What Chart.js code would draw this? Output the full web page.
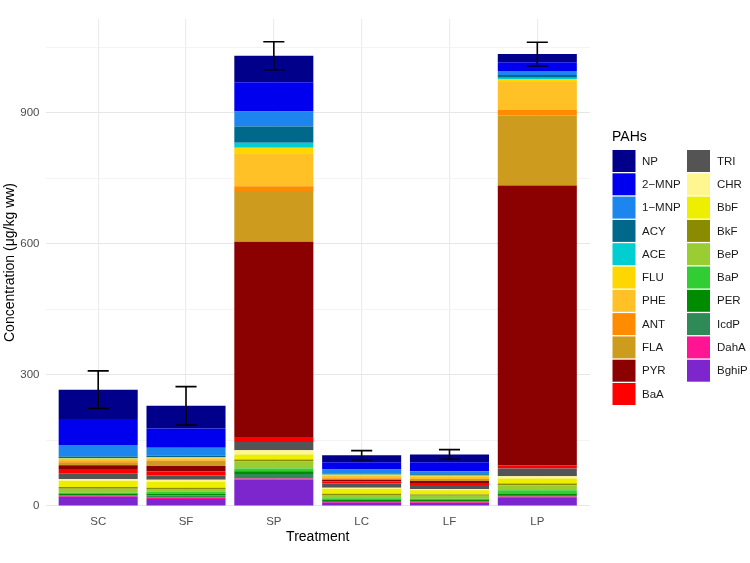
<!DOCTYPE html>
<html>
<head>
<meta charset="utf-8">
<script src="https://cdn.jsdelivr.net/npm/chart.js@4.4.1/dist/chart.umd.min.js"></script>
<style>
html,body{margin:0;padding:0;background:#fff;}
#wrap{width:750px;height:563px;position:relative;}
</style>
</head>
<body>
<div id="wrap"><canvas id="c" width="750" height="563"></canvas></div>
<script>
// ---- Data (µg/kg ww), categories in order ----
const categories = ['SC', 'SF', 'SP', 'LC', 'LF', 'LP'];

// legend order (top of stack first)
const compounds = ['NP', '2−MNP', '1−MNP', 'ACY', 'ACE', 'FLU', 'PHE', 'ANT', 'FLA', 'PYR', 'BaA',
                   'TRI', 'CHR', 'BbF', 'BkF', 'BeP', 'BaP', 'PER', 'IcdP', 'DahA', 'BghiP'];

const NP    = [67.2, 51.9, 60.5, 16.0, 17.6, 19.0];
const MNP2  = [59.5, 44.3, 67.0, 16.8, 20.6, 19.9];
const MNP1  = [26.0, 18.3, 34.3,  9.2,  6.9,  9.2];
const ACY   = [ 3.8,  3.0, 37.3,  2.3,  3.0,  6.2];
const ACE   = [ 0.8,  0.5, 11.5,  0.5,  0.5,  3.7];
const FLU   = [ 1.5,  2.3, 12.4,  1.5,  2.3,  6.2];
const PHE   = [ 5.3,  4.6, 76.0,  5.3,  5.3, 64.1];
const ANT   = [ 3.0,  3.8, 10.8,  2.3,  2.3, 12.1];
const FLA   = [ 6.1,  9.2, 116.0, 2.3,  2.3, 160.3];
const PYR   = [ 8.4, 12.2, 447.0, 3.8,  4.6, 640.5];
const BaA   = [ 9.9,  9.2, 11.5,  4.6,  4.6,  7.6];
const TRI   = [13.0,  9.9, 19.0,  9.9,  9.2, 17.6];
const CHR   = [ 4.6,  4.6,  9.8,  3.0,  3.0,  5.3];
const BbF   = [13.7, 13.7, 11.5, 10.7,  9.2, 11.5];
const BkF   = [ 3.8,  3.0,  4.6,  3.0,  3.0,  3.9];
const BeP   = [ 9.2,  6.1, 16.0,  7.6,  6.9, 11.5];
const BaP   = [ 3.0,  4.6,  6.2,  3.8,  3.0,  7.6];
const PER   = [ 2.3,  3.8,  6.2,  2.3,  3.0,  3.2];
const IcdP  = [ 1.5,  5.3, 10.5,  2.3,  2.3,  3.7];
const DahA  = [ 2.3,  3.0,  2.3,  1.5,  1.5,  1.6];
const BghiP = [21.4, 16.0, 60.5,  7.6,  6.9, 20.0];

// error (± on total)
const totalError = [43, 44, 32, 10.5, 11, 27];

// y-axis tick labels
const yTickLabels = [0, 300, 600, 900];

const seriesValues = [NP, MNP2, MNP1, ACY, ACE, FLU, PHE, ANT, FLA, PYR, BaA,
                      TRI, CHR, BbF, BkF, BeP, BaP, PER, IcdP, DahA, BghiP];

const colours = ['#00008B', '#0000EE', '#1C86EE', '#00688B', '#00CED1', '#FFD700', '#FFC125',
                 '#FF8C00', '#CD9B1D', '#8B0000', '#FF0000', '#545454', '#FFF68F', '#EEEE00',
                 '#8B8B00', '#9ACD32', '#32CD32', '#008B00', '#2E8B57', '#FF1493', '#7D26CD'];

// stack bottom first: reverse of legend order
const datasets = [];
for (let k = compounds.length - 1; k >= 0; k--) {
  datasets.push({
    label: compounds[k],
    data: seriesValues[k].map((v, i) => ({ x: i + 1, y: v })),
    backgroundColor: colours[k],
    borderWidth: 0,
    categoryPercentage: 1.0,
    barPercentage: 0.9
  });
}

const FONT = "'Liberation Sans', Arial, Helvetica, sans-serif";

const errorBarPlugin = {
  id: 'errorBars',
  afterDatasetsDraw(chart) {
    const ctx = chart.ctx;
    const xs = chart.scales.x, ys = chart.scales.y;
    ctx.save();
    ctx.strokeStyle = '#000';
    ctx.lineWidth = 1.6;
    categories.forEach((c, i) => {
      let total = 0;
      seriesValues.forEach(s => total += s[i]);
      const x = xs.getPixelForValue(i + 1);
      const yT = ys.getPixelForValue(total + totalError[i]);
      const yB = ys.getPixelForValue(total - totalError[i]);
      const half = (xs.getPixelForValue(1.12) - xs.getPixelForValue(1));
      ctx.beginPath();
      ctx.moveTo(x, yT); ctx.lineTo(x, yB);
      ctx.moveTo(x - half, yT); ctx.lineTo(x + half, yT);
      ctx.moveTo(x - half, yB); ctx.lineTo(x + half, yB);
      ctx.stroke();
    });
    ctx.restore();
  }
};

const legendPlugin = {
  id: 'twoColLegend',
  afterDraw(chart) {
    const ctx = chart.ctx;
    ctx.save();
    ctx.fillStyle = '#000';
    ctx.font = '14px ' + FONT;
    ctx.textBaseline = 'middle';
    ctx.textAlign = 'left';
    ctx.fillText('PAHs', 612, 137);
    const perCol = 11;
    const keyW = 23, keyH = 22, rowH = 23.3;
    const colX = [612.5, 687];
    const labX = [642, 717];
    const y0 = 150;
    ctx.font = '11.5px ' + FONT;
    compounds.forEach((name, k) => {
      const col = Math.floor(k / perCol);
      const row = k % perCol;
      const y = y0 + row * rowH;
      ctx.fillStyle = colours[k];
      ctx.fillRect(colX[col], y, keyW, keyH);
      ctx.fillStyle = '#1a1a1a';
      ctx.fillText(name, labX[col], y + keyH / 2 + 0.5);
    });
    ctx.restore();
  }
};

new Chart(document.getElementById('c'), {
  type: 'bar',
  data: { datasets },
  options: {
    responsive: false,
    animation: false,
    layout: { padding: { top: 19, right: 160, left: 0, bottom: 0 } },
    plugins: { legend: { display: false }, tooltip: { enabled: false } },
    scales: {
      x: {
        type: 'linear',
        stacked: true,
        offset: false,
        min: 0.4,
        max: 6.6,
        afterFit(s) { s.height = 57; },
        border: { display: false },
        grid: { color: '#EBEBEB', lineWidth: 1.1, drawTicks: false, offset: false },
        ticks: {
          stepSize: 1,
          includeBounds: false,
          autoSkip: false,
          maxRotation: 0,
          padding: 9,
          color: '#4D4D4D',
          font: { family: FONT, size: 11.5 },
          callback: v => (Number.isInteger(v) && categories[v - 1]) ? categories[v - 1] : ''
        },
        title: {
          display: true, text: 'Treatment', color: '#000',
          font: { family: FONT, size: 14 },
          padding: { top: 0, bottom: 17 }
        }
      },
      y: {
        stacked: true,
        min: 0,
        max: 1115,
        afterFit(s) { s.width = 45.5; },
        border: { display: false },
        grid: {
          drawTicks: false,
          color: ctx => (ctx.tick && yTickLabels.includes(ctx.tick.value)) ? '#E6E6E6' : '#F0F0F0',
          lineWidth: ctx => (ctx.tick && yTickLabels.includes(ctx.tick.value)) ? 1.1 : 0.8
        },
        ticks: {
          stepSize: 150,
          includeBounds: false,
          padding: 6,
          color: '#4D4D4D',
          font: { family: FONT, size: 11.5 },
          callback: v => yTickLabels.includes(v) ? String(v) : ''
        },
        title: {
          display: true, text: 'Concentration (μg/kg ww)', color: '#000',
          font: { family: FONT, size: 14 },
          padding: { top: 2, bottom: 0 }
        }
      }
    }
  },
  plugins: [errorBarPlugin, legendPlugin]
});
</script>
</body>
</html>
